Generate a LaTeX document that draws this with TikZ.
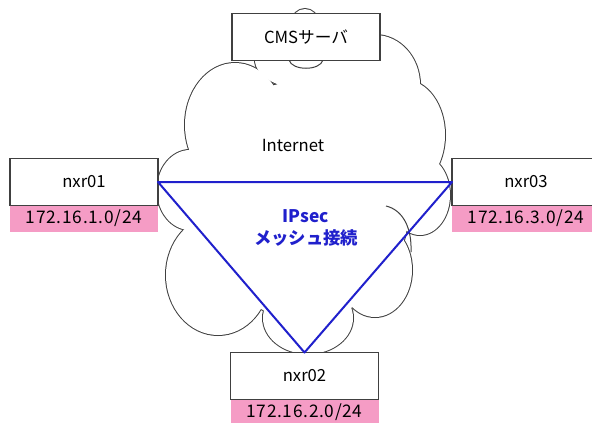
\documentclass[tikz,border=0pt]{standalone}
\usepackage{fontspec}
\usepackage{xcolor}
\usepackage{tikz}
\usetikzlibrary{positioning,backgrounds}
\newfontfamily\jpfont{Noto Sans CJK JP}
\definecolor{pinknet}{HTML}{F59CC5}
\definecolor{ipblue}{HTML}{2020CC}
\definecolor{edgegray}{HTML}{404040}
\tikzset{
  host/.style={draw=edgegray,line width=0.9pt,fill=white,font=\jpfont\fontsize{12.5}{14}\selectfont,
               minimum width=111pt,minimum height=35.25pt,inner sep=0pt,outer sep=0pt},
  net/.style={fill=pinknet,font=\jpfont\fontsize{13}{14}\selectfont\addfontfeature{LetterSpace=4},
              minimum width=111pt,minimum height=19.5pt,inner sep=0pt,outer sep=0pt},
  tun/.style={ipblue,line width=1.5pt,line join=round},
  cloudline/.style={draw=edgegray,line width=1.5pt},
}

\begin{document}
\begin{tikzpicture}[x=0.75pt,y=-0.75pt,node distance=0pt]
\useasboundingbox (0,0) rectangle (592,422);
% server and routers
\node[host] (cms) at (306,37) {CMSサーバ};
\node[host] (nxr01) at (84,182) {nxr01};
\node[host] (nxr03) at (526,182) {nxr03};
\node[host] (nxr02) at (304.5,376) {nxr02};
\node[net,below=of nxr01] (lan01) {172.16.1.0/24};
\node[net,below=of nxr03] (lan03) {172.16.3.0/24};
\node[net,below=of nxr02] (lan02) {172.16.2.0/24};
\node[font=\jpfont\fontsize{12.5}{14}\selectfont] (inet) at (293,145) {Internet};
\node[font=\jpfont\bfseries\fontsize{13}{17}\selectfont,text=ipblue,align=center] (mesh) at (306,228)
 {IPsec\\メッシュ接続};
% IPsec mesh
\draw[tun] (nxr01.east) -- (nxr03.west) -- (nxr02.north) -- cycle;
% cloud
\begin{scope}[on background layer]
  \foreach \cx/\cy/\rx/\ry in {305/22/13/13,310/60/55/30,235/125/50/62,190/190/33/40,
      218/275/52/60,308/318/45/36,375/270/37/47,420/195/30/40,405/135/40/55,
      375/85/45/50,305/200/105/120}
    \draw[cloudline] (\cx,\cy) ellipse[x radius=\rx,y radius=\ry];
  \foreach \cx/\cy/\rx/\ry in {305/22/13/13,310/60/55/30,235/125/50/62,190/190/33/40,
      218/275/52/60,308/318/45/36,375/270/37/47,420/195/30/40,405/135/40/55,
      375/85/45/50,305/200/105/120}
    \fill[white] (\cx,\cy) ellipse[x radius=\rx,y radius=\ry];
  \draw[edgegray,line width=0.75pt] (289,60) .. controls (292,71) and (320,71) .. (323,60);
  \draw[edgegray,line width=0.75pt] (386,206) .. controls (403,210) and (412,228) .. (411,252);
\end{scope}
\end{tikzpicture}
\end{document}
